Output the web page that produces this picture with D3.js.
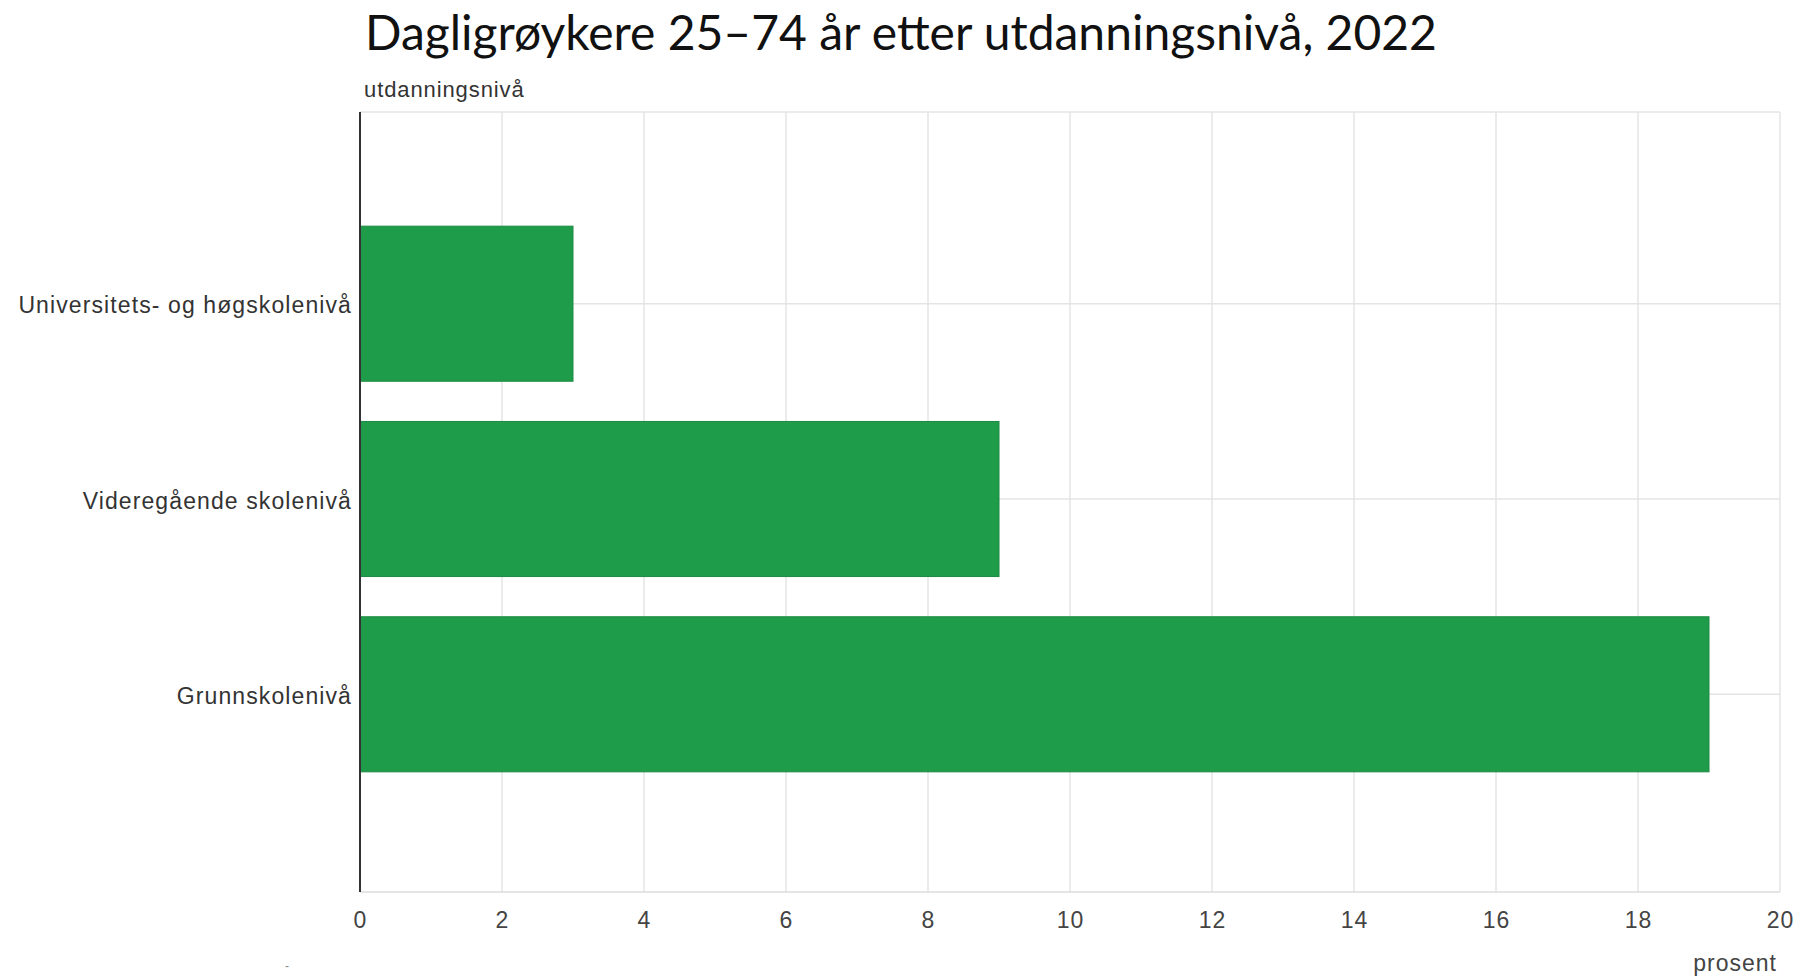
<!DOCTYPE html>
<html>
<head>
<meta charset="utf-8">
<script src="https://cdn.jsdelivr.net/npm/d3@7"></script>
<style>
  body { margin: 0; background: #fff; }
  svg { display: block; }
</style>
</head>
<body>
<div id="chart"></div>
<script>
// data
const categories = ["Universitets- og høgskolenivå", "Videregående skolenivå", "Grunnskolenivå"];
const values = [3, 9, 19];
const xTicks = [0, 2, 4, 6, 8, 10, 12, 14, 16, 18, 20];

const titleText = "Dagligrøykere 25–74 år etter utdanningsnivå, 2022";
const yTitle = "utdanningsnivå";
const xTitle = "prosent";

const W = 1801, H = 976;
const margin = {top: 112, right: 21, bottom: 84, left: 360};
const width = W - margin.left - margin.right;
const height = H - margin.top - margin.bottom;

const labelFont = "Liberation Sans, Arial, sans-serif";

const svg = d3.select("#chart").append("svg")
    .attr("width", W)
    .attr("height", H);

const g = svg.append("g")
    .attr("transform", "translate(" + margin.left + "," + margin.top + ")");

const x = d3.scaleLinear()
    .domain([0, 20])
    .range([0, width]);

// bands sit a little above centre in the original
const y = d3.scaleBand()
    .domain(categories)
    .range([-3, height - 3])
    .paddingInner(0.206)
    .paddingOuter(0.6);

// gridlines
g.selectAll(".vgrid")
    .data(xTicks)
    .enter().append("line")
    .attr("class", "vgrid")
    .attr("x1", d => x(d))
    .attr("x2", d => x(d))
    .attr("y1", 0)
    .attr("y2", height)
    .attr("stroke", "#e4e4e4")
    .attr("stroke-width", 1.5);

g.selectAll(".hgrid")
    .data(categories)
    .enter().append("line")
    .attr("class", "hgrid")
    .attr("x1", 0)
    .attr("x2", width)
    .attr("y1", d => y(d) + y.bandwidth() / 2)
    .attr("y2", d => y(d) + y.bandwidth() / 2)
    .attr("stroke", "#e4e4e4")
    .attr("stroke-width", 1.5);

g.append("line")
    .attr("x1", 0).attr("x2", width)
    .attr("y1", 0).attr("y2", 0)
    .attr("stroke", "#e4e4e4")
    .attr("stroke-width", 1.5);

g.append("line")
    .attr("x1", 0).attr("x2", width)
    .attr("y1", height).attr("y2", height)
    .attr("stroke", "#dcdcdc")
    .attr("stroke-width", 1.5);

// bars
g.selectAll(".bar")
    .data(values)
    .enter().append("rect")
    .attr("class", "bar")
    .attr("x", 0)
    .attr("y", (d, i) => y(categories[i]))
    .attr("width", d => x(d))
    .attr("height", y.bandwidth())
    .attr("fill", "#1f9c4a")
    .attr("stroke", "#1b8a43")
    .attr("stroke-width", 1);

// x axis
const xAxis = d3.axisBottom(x)
    .tickValues(xTicks)
    .tickSize(0)
    .tickPadding(20);

g.append("g")
    .attr("class", "axis x-axis")
    .attr("transform", "translate(0," + height + ")")
    .call(xAxis)
    .call(a => a.select(".domain").remove())
    .selectAll("text")
    .attr("fill", "#444")
    .style("font-family", labelFont)
    .style("font-size", "23px")
    .style("letter-spacing", "1px");

// y axis
const yAxis = d3.axisLeft(y)
    .tickSize(0)
    .tickPadding(8);

g.append("g")
    .attr("class", "axis y-axis")
    .call(yAxis)
    .call(a => a.select(".domain").remove())
    .selectAll("text")
    .attr("dy", "0.42em")
    .attr("fill", "#333")
    .style("font-family", labelFont)
    .style("font-size", "23px")
    .style("letter-spacing", "1.1px");

// zero line
g.append("line")
    .attr("x1", x(0)).attr("x2", x(0))
    .attr("y1", 0).attr("y2", height)
    .attr("stroke", "#333")
    .attr("stroke-width", 2);

// titles
svg.append("text")
    .attr("x", 365)
    .attr("y", 50)
    .style("font-family", "Lato, sans-serif")
    .style("font-size", "48px")
    .attr("fill", "#111")
    .text(titleText);

svg.append("text")
    .attr("x", 364)
    .attr("y", 97)
    .style("font-family", labelFont)
    .style("font-size", "22px")
    .style("letter-spacing", "0.9px")
    .attr("fill", "#333")
    .text(yTitle);

svg.append("text")
    .attr("x", 1777)
    .attr("y", 971)
    .attr("text-anchor", "end")
    .style("font-family", labelFont)
    .style("font-size", "23px")
    .style("letter-spacing", "1px")
    .attr("fill", "#444")
    .text(xTitle);

svg.append("text")
    .attr("x", 285)
    .attr("y", 970)
    .style("font-family", labelFont)
    .style("font-size", "12px")
    .attr("fill", "#888")
    .text("-");
</script>
</body>
</html>
